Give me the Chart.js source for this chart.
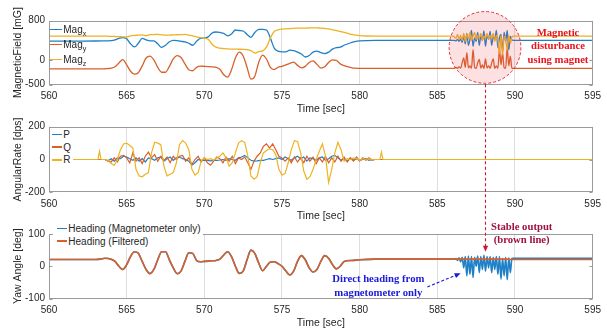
<!DOCTYPE html>
<html><head><meta charset="utf-8">
<script src="https://cdn.jsdelivr.net/npm/chart.js@4.4.0/dist/chart.umd.min.js"></script>
<style>
html,body{margin:0;padding:0;background:#fff;}
#wrap{position:relative;width:607px;height:331px;overflow:hidden;font-family:"Liberation Sans",Arial,sans-serif;}
#wrap canvas{position:absolute;left:0;top:0;}
#ov{z-index:2;pointer-events:none;}
.lg{position:absolute;z-index:3;font-size:10px;color:#262626;white-space:nowrap;}
.lg .row{display:flex;align-items:center;}
.lg .sw{display:inline-block;height:1.4px;margin-right:1.6px;}
.lg sub{font-size:7px;line-height:0;vertical-align:-3px;}
.note{position:absolute;z-index:3;font-family:"Liberation Serif","Times New Roman",serif;font-weight:bold;font-size:10.7px;line-height:13.3px;text-align:center;white-space:nowrap;}
</style></head>
<body>
<div id="wrap">
  <canvas id="c1" width="607" height="331"></canvas>
  <canvas id="c2" width="607" height="331"></canvas>
  <canvas id="c3" width="607" height="331"></canvas>
  <canvas id="ov" width="607" height="331"></canvas>

  <div class="lg" style="left:50px;top:21.8px;">
    <div class="row" style="height:15px"><i class="sw" style="width:11.7px;background:#1f80c8"></i><span>Mag<sub>x</sub></span></div>
    <div class="row" style="height:15px"><i class="sw" style="width:11.7px;background:#d9602a"></i><span>Mag<sub>y</sub></span></div>
    <div class="row" style="height:15px"><i class="sw" style="width:11.7px;background:#edb322"></i><span>Mag<sub>z</sub></span></div>
  </div>
  <div class="lg" style="left:50px;top:127.9px;background:#fff;padding:0 1.5px 0 1.7px;">
    <div class="row" style="height:12.8px"><i class="sw" style="width:10px;background:#1f80c8"></i><span>P</span></div>
    <div class="row" style="height:12.8px"><i class="sw" style="width:10px;background:#d9602a"></i><span>Q</span></div>
    <div class="row" style="height:12.8px"><i class="sw" style="width:10px;background:#edb322"></i><span>R</span></div>
  </div>
  <div class="lg" style="left:53px;top:222px;background:#fff;padding:0 2px 0 3.7px;">
    <div class="row" style="height:12.7px"><i class="sw" style="width:10px;background:#1f80c8"></i><span>Heading (Magnetometer only)</span></div>
    <div class="row" style="height:12.7px"><i class="sw" style="width:10px;background:#d9602a"></i><span>Heading (Filtered)</span></div>
  </div>

  <div class="note" style="left:518px;top:26px;width:80px;color:#e8141c;">Magnetic<br>disturbance<br>using magnet</div>
  <div class="note" style="left:481.7px;top:220px;width:80px;color:#a01040;">Stable output<br>(brown line)</div>
  <div class="note" style="left:318.3px;top:272.3px;width:120px;color:#1a1adb;">Direct heading from<br>magnetometer only</div>
</div>
<script>
// ---------------- DATA ----------------
const timeTicks = [560, 565, 570, 575, 580, 585, 590, 595];
const magTicks = [-500, 0, 800];
const rateTicks = [-200, 0, 200];
const yawTicks = [-100, 0, 100];

// Panel 1: magnetic field [mG]
const magTime = [560, 562, 563, 563.5, 563.75,
  564, 564.25, 564.5, 564.75,  565, 565.25, 565.5, 565.75,  566, 566.25, 566.5, 566.75,
  567, 567.25, 567.5, 567.75,  568, 568.25, 568.5, 568.75,  569, 569.25, 569.5, 569.75,
  570, 570.25, 570.5, 570.75,  571, 571.25, 571.5, 571.75,  572, 572.25, 572.5, 572.75,
  573, 573.25, 573.5, 573.75,  574, 574.25, 574.5, 574.75,  575, 575.25, 575.5, 575.75,
  576, 576.25, 576.5, 576.75,  577, 577.25, 577.5, 577.75,  578, 578.25, 578.5, 578.75,
  579, 579.25, 579.5, 579.75,  580,
  580.5, 581, 583, 585, 585.9,
  586.0, 586.1, 586.2, 586.3, 586.4, 586.5, 586.6, 586.7, 586.8, 586.9,
  587.0, 587.1, 587.2, 587.3, 587.4, 587.5, 587.6, 587.7, 587.8, 587.9,
  588.0, 588.1, 588.2, 588.3, 588.4, 588.5, 588.6, 588.7, 588.8, 588.9,
  589.0, 589.1, 589.2, 589.3, 589.4, 589.5, 589.6, 589.7, 589.8, 589.9, 590.0,
  590.5, 595];
const magX = [385, 385, 386, 388, 390,
  395, 410, 440, 455,  430, 330, 265, 340,  440, 410, 390, 390,
  330, 255, 300, 370,  400, 395, 380, 370,  340, 300, 380, 440,
  445, 470, 550, 570,  560, 540, 490, 530,  610, 600, 590, 520,
  460, 560, 625, 625,  610, 450, 240, 180,  165, 165, 200, 190,
  160, 120, 60, 90,  160, 180, 150, 130,  160, 220, 250, 260,
  300, 330, 360, 380,  390,
  396, 398, 398, 398, 398,
  398, 400, 390, 420, 380, 430, 360, 480, 330, 540,
  300, 420, 600, 280, 450, 380, 560, 300, 480, 400,
  590, 280, 500, 420, 580, 300, 470, 420, 600, 250,
  450, 520, 180, 560, 380, 600, 200, 480, 410, 398, 398,
  398, 398];
const magY = [-180, -180, -180, -180, -175,
  -168, -140, -60, 5,  -100, -230, -290, -260,  -120, 40, 78, 0,
  -150, -250, -250, -130,  20, 90, 50, -80,  -200, -220, -150, -125,
  -130, -135, -140, -150,  -190, -300, -350, -200,  40, 160, 80, -150,
  -390, -330, -50, 100,  20, -150, -195, -150,  -130, -100, -70, -45,
  -110, -160, -130, -50,  -20, -90, -165, -140,  -50, 0, -10, -80,
  -115, -140, -160, -168,  -172,
  -173, -173, -173, -173, -173,
  -173, -170, -150, -170, -140, -165, -60, 40, -150, 150,
  -160, -120, -170, 210, -150, -170, -60, 10, -165, -100,
  -170, 20, -165, -120, -170, -60, 20, -170, -120, -170,
  220, -100, 150, -160, -170, 250, -120, 80, -165, -173, -173,
  -173, -173];
const magZ = [486, 486, 486, 486, 484,
  480, 478, 475, 472,  470, 490, 500, 505,  510, 495, 515, 518,
  520, 512, 505, 508,  510, 514, 516, 520,  505, 490, 470, 455,
  445, 420, 320, 260,  240, 232, 225, 222,  220, 218, 215, 210,
  190, 140, 170, 185,  260, 450, 580, 615,  630, 635, 640, 645,
  650, 650, 650, 652,  655, 652, 650, 642,  635, 615, 600, 580,
  560, 540, 520, 505,  495,
  488, 486, 486, 486, 486,
  486, 470, 440, 520, 420, 500, 400, 540, 380, 520,
  430, 560, 400, 480, 560, 420, 500, 440, 540, 400,
  480, 440, 540, 420, 500, 440, 540, 380, 500, 440,
  120, 500, 100, 480, 420, 200, 500, 340, 470, 486, 486,
  486, 486];

// Panel 2: angular rate [dps]
const rateTime = [560, 563.15, 563.25, 563.35,
  563.6, 563.8, 564.0, 564.2, 564.4,  564.6, 564.8, 565.0, 565.2, 565.4,
  565.6, 565.8, 566.0, 566.2, 566.4,  566.6, 566.8, 567.0, 567.2, 567.4,
  567.6, 567.8, 568.0, 568.2, 568.4,  568.6, 568.8, 569.0, 569.2, 569.4,
  569.6, 569.8, 570.0, 570.2, 570.4,  570.6, 570.8, 571.0, 571.2, 571.4,
  571.6, 571.8, 572.0, 572.2, 572.4,  572.6, 572.8, 573.0, 573.2, 573.4,
  573.6, 573.8, 574.0, 574.2, 574.4,  574.6, 574.8, 575.0, 575.2, 575.4,
  575.6, 575.8, 576.0, 576.2, 576.4,  576.6, 576.8, 577.0, 577.2, 577.4,
  577.6, 577.8, 578.0, 578.2, 578.4,  578.6, 578.8, 579.0, 579.2, 579.4,
  579.6, 579.8, 580.0, 580.2, 580.4,  580.6, 580.8, 581.0,
  581.3, 581.4, 581.5, 595];
const rateP = [0, 0, 0, 0,
  0, -8, 5, -10, 10,  5, 20, 15, 5, -5,
  10, -10, 5, -15, 10,  5, -5, 10, 15, -10,
  5, 15, -5, 10, 15,  5, 0, -10, -35, -20,
  0, -5, -5, -5, -8,  -5, -5, -3, 0, -5,
  5, 0, -5, 10, 15,  25, 10, -5, -10, -8,
  -5, -5, 0, 5, 0,  5, 10, 0, 15, 5,
  -5, 10, 20, 5, 15,  -10, 10, 5, -5, 10,
  15, -5, 5, 20, 25,  10, -5, 5, -10, 10,
  -5, 5, -5, 0, 5,  -5, 0, 0,
  0, 0, 0, 0];
const rateQ = [0, 0, 0, 0,
  0, -10, -15, 10, -15,  20, 25, 10, -20, 40,
  -10, 10, -25, 20, 45,  10, 30, -10, 20, -5,
  15, -20, 20, 0, 20,  25, -10, 10, -30, 0,
  20, -15, 10, -20, -35,  -10, 15, 5, -20, 15,
  -10, 20, -25, 10, 0,  15, -20, -60, -10, 20,
  40, 80, 95, 70, 95,  60, 20, 10, -10, 10,
  -20, 15, -15, 10, -20,  20, -10, 15, -25, 10,
  -15, 20, -20, 10, -15,  20, -10, 15, -15, 10,
  -10, 15, -10, 10, -5,  10, -5, 0,
  0, 0, 0, 0];
const rateR = [0, 0, 50, 0,
  0, -5, -25, -35, 0,  60, 95, 100, 85, 70,
  -60, -100, -105, -90, -80,  40, 105, 100, 90, -40,
  -100, -90, -80, -20, 90,  115, 100, 60, -60, -95,
  -80, -10, 10, 0, 5,  -5, 10, 20, 40, 10,
  -40, -20, 40, 100, 115,  105, 20, -100, -120, -105,
  -20, 40, 55, 65, 60,  30, -60, -95, -85, -20,
  60, 115, 110, 40, -70,  -120, -105, -60, 0, 50,
  95, 20, -140, -60, 40,  105, 60, -10, 5, 0,
  10, 5, -5, 5, 0,  5, 0, 0,
  0, 45, 0, 0];

// Panel 3: yaw angle [deg]
const yawTime = [560, 563, 563.3, 563.6, 564,
  564.25, 564.5, 564.75, 565,  565.25, 565.5, 565.75, 566,  566.25, 566.5, 566.75, 567,
  567.25, 567.5, 567.75, 568,  568.25, 568.5, 568.75, 569,  569.25, 569.5, 569.75, 570,
  570.25, 570.5, 570.75, 571,  571.25, 571.5, 571.75, 572,  572.25, 572.5, 572.75, 573,
  573.25, 573.5, 573.75, 574,  574.25, 574.5, 574.75, 575,  575.25, 575.5, 575.75, 576,
  576.25, 576.5, 576.75, 577,  577.25, 577.5, 577.75, 578,  578.25, 578.5, 578.75, 579,
  579.5, 580, 581, 583, 585, 585.9,
  586.0, 586.1, 586.2, 586.3, 586.4, 586.5, 586.6, 586.7, 586.8, 586.9,
  587.0, 587.1, 587.2, 587.3, 587.4, 587.5, 587.6, 587.7, 587.8, 587.9,
  588.0, 588.1, 588.2, 588.3, 588.4, 588.5, 588.6, 588.7, 588.8, 588.9,
  589.0, 589.1, 589.2, 589.3, 589.4, 589.5, 589.6, 589.7, 589.8, 589.9, 590.0,
  590.5, 595];
const yawMag = [21, 21, 22, 25, 22,
  15, 0, -10, 5,  30, 45, 40, 15,  -10, -23, -10, 20,
  45, 45, 20, -5,  -23, -15, 15, 42,  40, 18, 14, 15,
  16, 17, 18, 22,  35, 45, 30, 0,  -22, -15, 20, 50,
  40, 10, -14, 0,  13, 14, 8, 0,  -15, -27, -15, 15,
  33, 20, -5, -18,  -10, 15, 33, 25,  5, -8, 0, 15,
  18, 20, 22, 22, 22, 22,
  22, 22, 24, 18, 26, 14, 28, -5, 30, -30,
  32, -25, 30, -35, 28, 0, 32, -20, 30, -10,
  34, -15, 30, -5, 30, -20, 28, -10, 30, -25,
  30, -40, 25, -30, 28, -42, 26, -20, 24, 25, 25,
  25, 25];
const yawFilt = [21, 21, 22, 25, 22,
  15, 0, -10, 5,  30, 45, 40, 15,  -10, -23, -10, 20,
  45, 45, 20, -5,  -23, -15, 15, 42,  40, 18, 14, 15,
  16, 17, 18, 22,  35, 45, 30, 0,  -22, -15, 20, 50,
  40, 10, -14, 0,  13, 14, 8, 0,  -15, -27, -15, 15,
  33, 20, -5, -18,  -10, 15, 33, 25,  5, -8, 0, 15,
  18, 20, 22, 22, 22, 22,
  22, 22, 22, 22, 22, 22, 22, 22, 22, 22,
  22, 22, 22, 22, 22, 22, 22, 22, 22, 22,
  22, 22, 22, 22, 22, 22, 22, 22, 22, 22,
  22, 22, 22, 22, 22, 22, 22, 21, 21, 21, 21,
  21, 21];

// Annotation anchors (data coordinates)
const circleAnchor = {t: 588.07, v: 255, rt: 2.31};
const stableArrow = {t: 588.07, tipYaw: 45};
const directArrow = {t0: 584.36, v0: -64, t1: 586.5, v1: -22};

// ---------------- CHARTS ----------------
const COL = {blue: '#1f80c8', orange: '#d9602a', yellow: '#edb322'};
Chart.defaults.font.family = '"Liberation Sans", Arial, Helvetica, sans-serif';
Chart.defaults.color = '#262626';

function pts(ts, vs) { return ts.map((t, i) => ({x: t, y: vs[i]})); }

const frame = {
  id: 'frame',
  afterDraw(chart) {
    const {ctx, chartArea: a} = chart;
    const L = Math.round(a.left) + 0.5, R = Math.round(a.right) - 0.5;
    const T = Math.round(a.top) + 0.5, B = Math.round(a.bottom) - 0.5;
    ctx.save();
    ctx.strokeStyle = '#9a9a9a';
    ctx.lineWidth = 1;
    ctx.strokeRect(L, T, R - L, B - T);
    ctx.beginPath();
    const ys = chart.scales.y;
    ys.ticks.forEach(t => {
      const y = Math.round(ys.getPixelForValue(t.value)) + 0.5;
      ctx.moveTo(L, y); ctx.lineTo(L + 3, y);
      ctx.moveTo(R, y); ctx.lineTo(R - 3, y);
    });
    ctx.stroke();
    ctx.restore();
  }
};

function panel(id, o) {
  return new Chart(document.getElementById(id), {
    type: 'line',
    data: {
      datasets: o.sets.map(s => ({
        label: s.label, data: pts(o.time, s.values), borderColor: s.color,
        borderWidth: o.lw, pointRadius: 0, fill: false, order: s.order,
        cubicInterpolationMode: o.smooth ? 'monotone' : 'default', tension: 0
      }))
    },
    options: {
      responsive: false, animation: false, events: [],
      layout: {padding: {left: 12, right: 13.5, top: o.top, bottom: o.bottom}},
      plugins: {legend: {display: false}, tooltip: {enabled: false}},
      scales: {
        x: {
          type: 'linear', min: 560, max: 595,
          afterBuildTicks: s => { s.ticks = timeTicks.map(v => ({value: v})); },
          grid: {color: '#dedede', drawTicks: false, lineWidth: 1},
          border: {display: false},
          ticks: {padding: 6, font: {size: 10}, color: '#262626', maxRotation: 0, callback: v => String(v)},
          title: {display: true, text: 'Time [sec]', padding: {top: -6, bottom: 0}, font: {size: 10.5}, color: '#262626'}
        },
        y: {
          type: 'linear', min: o.ymin, max: o.ymax,
          afterBuildTicks: s => { s.ticks = o.yticks.map(v => ({value: v})); },
          afterFit: s => { s.width = 37; },
          grid: {display: false, drawTicks: false},
          border: {display: false},
          ticks: {padding: 4, font: {size: 10}, color: '#262626', callback: v => String(v)},
          title: {display: true, text: o.ytitle, padding: {top: 0, bottom: 0}, font: {size: 10.5}, color: '#262626'}
        }
      }
    },
    plugins: [frame]
  });
}

const ch1 = panel('c1', {
  time: magTime, top: 20.7, bottom: 215.9, ymin: -500, ymax: 800, yticks: magTicks,
  ytitle: 'MagneticField [mG]', lw: 1.3, smooth: true,
  sets: [
    {label: 'Magx', values: magX, color: COL.blue, order: 3},
    {label: 'Magy', values: magY, color: COL.orange, order: 2},
    {label: 'Magz', values: magZ, color: COL.yellow, order: 1}
  ]
});
const ch2 = panel('c2', {
  time: rateTime, top: 126.7, bottom: 108.1, ymin: -200, ymax: 200, yticks: rateTicks,
  ytitle: 'AngularRate [dps]', lw: 1.2, smooth: false,
  sets: [
    {label: 'P', values: rateP, color: COL.blue, order: 3},
    {label: 'Q', values: rateQ, color: COL.orange, order: 2},
    {label: 'R', values: rateR, color: COL.yellow, order: 1}
  ]
});
const ch3 = panel('c3', {
  time: yawTime, top: 234, bottom: 1.9, ymin: -100, ymax: 100, yticks: yawTicks,
  ytitle: 'Yaw Angle [deg]', lw: 1.6, smooth: true,
  sets: [
    {label: 'Heading (Magnetometer only)', values: yawMag, color: COL.blue, order: 2},
    {label: 'Heading (Filtered)', values: yawFilt, color: COL.orange, order: 1}
  ]
});

// ---------------- OVERLAY ANNOTATIONS ----------------
(function drawOverlay() {
  const ctx = document.getElementById('ov').getContext('2d');
  function head(x0, y0, x1, y1, color, len, hw) {
    const ang = Math.atan2(y1 - y0, x1 - x0);
    ctx.save();
    ctx.fillStyle = color;
    ctx.beginPath();
    ctx.moveTo(x1, y1);
    ctx.lineTo(x1 - len * Math.cos(ang) + hw * Math.sin(ang), y1 - len * Math.sin(ang) - hw * Math.cos(ang));
    ctx.lineTo(x1 - len * Math.cos(ang) - hw * Math.sin(ang), y1 - len * Math.sin(ang) + hw * Math.cos(ang));
    ctx.closePath();
    ctx.fill();
    ctx.restore();
  }
  const x1s = ch1.scales.x, y1s = ch1.scales.y;
  const cx = x1s.getPixelForValue(circleAnchor.t);
  const cy = y1s.getPixelForValue(circleAnchor.v);
  const r = x1s.getPixelForValue(circleAnchor.t + circleAnchor.rt) - cx;
  ctx.save();
  ctx.beginPath();
  ctx.arc(cx, cy, r, 0, Math.PI * 2);
  ctx.fillStyle = 'rgba(235, 70, 85, 0.17)';
  ctx.fill();
  ctx.setLineDash([3, 2]);
  ctx.strokeStyle = '#e0303a';
  ctx.lineWidth = 1;
  ctx.stroke();
  ctx.restore();

  const sx = Math.round(ch1.scales.x.getPixelForValue(stableArrow.t)) + 0.5;
  const tipY = ch3.scales.y.getPixelForValue(stableArrow.tipYaw);
  ctx.save();
  ctx.setLineDash([3, 2.5]);
  ctx.strokeStyle = '#cc1530';
  ctx.lineWidth = 1.1;
  ctx.beginPath();
  ctx.moveTo(sx, cy + r + 1);
  ctx.lineTo(sx, tipY - 5);
  ctx.stroke();
  ctx.restore();
  head(sx, cy + r, sx, tipY, '#cc1530', 6, 2.6);

  const bx0 = ch3.scales.x.getPixelForValue(directArrow.t0), by0 = ch3.scales.y.getPixelForValue(directArrow.v0);
  const bx1 = ch3.scales.x.getPixelForValue(directArrow.t1), by1 = ch3.scales.y.getPixelForValue(directArrow.v1);
  const ang = Math.atan2(by1 - by0, bx1 - bx0);
  ctx.save();
  ctx.setLineDash([3, 2]);
  ctx.strokeStyle = '#1a1adb';
  ctx.lineWidth = 1.1;
  ctx.beginPath();
  ctx.moveTo(bx0, by0);
  ctx.lineTo(bx1 - 5 * Math.cos(ang), by1 - 5 * Math.sin(ang));
  ctx.stroke();
  ctx.restore();
  head(bx0, by0, bx1, by1, '#1a1adb', 6, 2.6);
})();
</script>
</body></html>
